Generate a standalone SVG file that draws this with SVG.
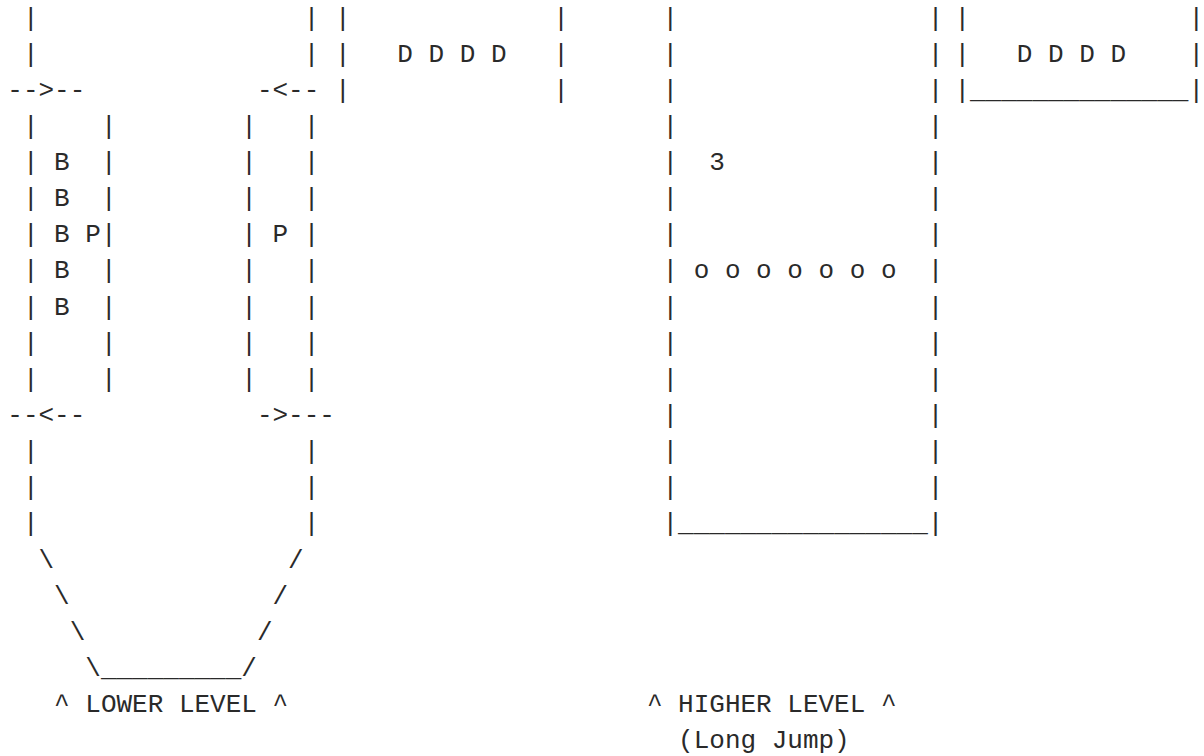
<svg xmlns="http://www.w3.org/2000/svg" width="1204" height="756" viewBox="0 0 1204 756">
<style>
text{font-family:"Liberation Mono","Courier New",monospace;font-size:26px;fill:#2a2a2a;white-space:pre}
</style>
<rect width="1204" height="756" fill="#ffffff"/>
<g id="lower-level" xml:space="preserve">
<text x="22.9" y="25.5">|</text><text x="303.7" y="25.5">|</text>
<text x="22.9" y="61.6">|</text><text x="303.7" y="61.6">|</text>
<text x="22.9" y="133.9">|    |</text><text x="241.3" y="133.9">|   |</text>
<text x="22.9" y="170.0">| B  |</text><text x="241.3" y="170.0">|   |</text>
<text x="22.9" y="206.2">| B  |</text><text x="241.3" y="206.2">|   |</text>
<text x="22.9" y="242.3">| B P|</text><text x="241.3" y="242.3">| P |</text>
<text x="22.9" y="278.4">| B  |</text><text x="241.3" y="278.4">|   |</text>
<text x="22.9" y="314.5">| B  |</text><text x="241.3" y="314.5">|   |</text>
<text x="22.9" y="350.7">|    |</text><text x="241.3" y="350.7">|   |</text>
<text x="22.9" y="386.8">|    |</text><text x="241.3" y="386.8">|   |</text>
<text x="22.9" y="459.1">|</text><text x="303.7" y="459.1">|</text>
<text x="22.9" y="495.2">|</text><text x="303.7" y="495.2">|</text>
<text x="22.9" y="531.3">|</text><text x="303.7" y="531.3">|</text>
<text x="38.5" y="567.5">\</text><text x="288.1" y="567.5">/</text>
<text x="54.1" y="603.6">\</text><text x="272.5" y="603.6">/</text>
<text x="69.7" y="639.7">\</text><text x="256.9" y="639.7">/</text>
<text x="85.3" y="675.8">\_________/</text>
</g>
<g id="connectors" xml:space="preserve">
<text x="7.3" y="97.8">--&gt;--</text>
<text x="256.9" y="97.8">-&lt;--</text>
<text x="7.3" y="422.9">--&lt;--</text>
<text x="256.9" y="422.9">-&gt;---</text>
</g>
<g id="top-box-1" xml:space="preserve">
<text x="334.9" y="25.5">|             |</text>
<text x="334.9" y="61.6">|   D D D D   |</text>
<text x="334.9" y="97.8">|             |</text>
</g>
<g id="higher-level" xml:space="preserve">
<text x="662.5" y="25.5">|                |</text>
<text x="662.5" y="61.6">|                |</text>
<text x="662.5" y="97.8">|                |</text>
<text x="662.5" y="133.9">|                |</text>
<text x="662.5" y="170.0">|  3             |</text>
<text x="662.5" y="206.2">|                |</text>
<text x="662.5" y="242.3">|                |</text>
<text x="662.5" y="278.4">| o o o o o o o  |</text>
<text x="662.5" y="314.5">|                |</text>
<text x="662.5" y="350.7">|                |</text>
<text x="662.5" y="386.8">|                |</text>
<text x="662.5" y="422.9">|                |</text>
<text x="662.5" y="459.1">|                |</text>
<text x="662.5" y="495.2">|                |</text>
<text x="662.5" y="531.3">|________________|</text>
</g>
<g id="top-box-2" xml:space="preserve">
<text x="954.4" y="25.5">|              |</text>
<text x="954.4" y="61.6">|   D D D D    |</text>
<text x="954.4" y="97.8">|______________|</text>
</g>
<g id="labels" xml:space="preserve">
<text x="54.1" y="712.0">^ LOWER LEVEL ^</text>
<text x="646.9" y="712.0">^ HIGHER LEVEL ^</text>
<text x="678.1" y="748.1">(Long Jump)</text>
</g>
</svg>
